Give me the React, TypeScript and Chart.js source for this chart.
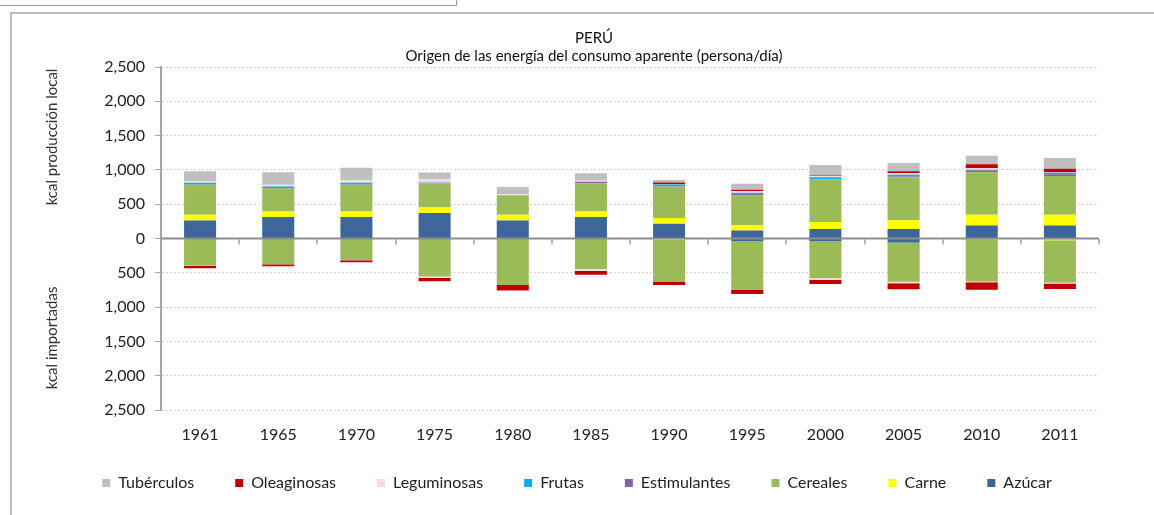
import React, { useEffect, useRef } from 'react';
import { Chart, registerables } from 'chart.js';

Chart.register(...registerables);

const years = ['1961', '1965', '1970', '1975', '1980', '1985', '1990', '1995', '2000', '2005', '2010', '2011'];

const seriesNames = ['Azúcar', 'Carne', 'Cereales', 'Estimulantes', 'Frutas', 'Leguminosas', 'Oleaginosas', 'Tubérculos'];
const seriesColors = ['#3D679A', '#FFFF00', '#9BBB59', '#8064A2', '#00B0F0', '#F2DCDB', '#C00000', '#BFBFBF'];

// kcal producción local (persona/día)
const azucarLocal = [264, 312, 312, 370, 264, 312, 216, 115, 140, 140, 188, 188];
const carneLocal = [82, 82, 82, 82, 82, 82, 82, 77, 101, 126, 159, 159];
const cerealesLocal = [436, 336, 389, 355, 274, 413, 455, 437, 618, 628, 618, 565];
const estimulantesLocal = [5, 5, 5, 5, 3, 15, 5, 29, 8, 8, 29, 25];
const frutasLocal = [25, 24, 25, 5, 3, 5, 29, 10, 25, 29, 10, 20];
const leguminosasLocal = [20, 24, 35, 45, 20, 15, 5, 20, 20, 19, 19, 10];
const oleaginosasLocal = [0, 0, 0, 0, 0, 0, 24, 24, 5, 29, 58, 48];
const tuberculosLocal = [149, 182, 185, 100, 106, 110, 38, 86, 155, 121, 126, 159];

// kcal importadas (persona/día), drawn below zero
const azucarImport = [0, 0, 0, 0, 0, 0, 0, -38, -35, -60, 0, 0];
const carneImport = [0, 0, 0, 0, 0, 0, -20, 0, 0, 0, -10, -25];
const cerealesImport = [-394, -370, -312, -555, -677, -446, -606, -713, -542, -571, -616, -616];
const estimulantesImport = [0, 0, 0, 0, 0, 0, 0, 0, 0, 0, 0, 0];
const frutasImport = [0, 0, 0, 0, 0, 0, 0, 0, 0, 0, 0, 0];
const leguminosasImport = [-5, -5, -5, -19, 0, -29, 0, 0, -24, -20, -10, -15];
const oleaginosasImport = [-34, -29, -29, -48, -82, -53, -53, -58, -63, -87, -111, -80];
const tuberculosImport = [0, 0, 0, 0, 0, 0, 0, 0, 0, 0, 0, 0];

const localSeries = [azucarLocal, carneLocal, cerealesLocal, estimulantesLocal, frutasLocal, leguminosasLocal, oleaginosasLocal, tuberculosLocal];
const importSeries = [azucarImport, carneImport, cerealesImport, estimulantesImport, frutasImport, leguminosasImport, oleaginosasImport, tuberculosImport];

const titleText = 'PERÚ';
const subtitleText = 'Origen de las energía del consumo aparente (persona/día)';
const yTitleTop = 'kcal producción local';
const yTitleBottom = 'kcal importadas';

const FONT = 'Lato, "Open Sans", sans-serif';

const decorPlugin = {
  id: 'decor',
  afterDatasetsDraw(chart: any) {
    const { ctx, chartArea, scales } = chart;
    const x = scales.x;
    const y = scales.y;
    const y0 = y.getPixelForValue(0);
    ctx.save();
    ctx.strokeStyle = '#8c8c8c';
    ctx.lineWidth = 2;
    ctx.beginPath();
    ctx.moveTo(chartArea.left, y0);
    ctx.lineTo(chartArea.right, y0);
    ctx.stroke();
    ctx.lineWidth = 1.5;
    ctx.strokeStyle = '#a0a0a0';
    const n = years.length;
    const step = (chartArea.right - chartArea.left) / n;
    ctx.beginPath();
    for (let i = 1; i <= n; i++) {
      const px = Math.round(chartArea.left + i * step);
      ctx.moveTo(px, y0);
      ctx.lineTo(px, y0 + 6);
    }
    ctx.stroke();

    // category labels under the plot
    ctx.fillStyle = '#222';
    ctx.font = `16px ${FONT}`;
    ctx.textAlign = 'center';
    ctx.textBaseline = 'middle';
    years.forEach((yr, i) => {
      ctx.fillText(yr, x.getPixelForValue(i), chartArea.bottom + 25);
    });
    ctx.restore();
  },
  afterDraw(chart: any) {
    const { ctx, scales } = chart;
    const y = scales.y;
    ctx.save();
    ctx.fillStyle = '#111';
    ctx.textAlign = 'center';
    ctx.textBaseline = 'middle';
    ctx.font = `15px ${FONT}`;
    ctx.fillText(titleText, 586, 30);
    ctx.fillText(subtitleText, 586, 48);

    ctx.fillStyle = '#333';
    ctx.font = `15px ${FONT}`;
    ctx.save();
    ctx.translate(44, y.getPixelForValue(1480));
    ctx.rotate(-Math.PI / 2);
    ctx.fillText(yTitleTop, 0, 0);
    ctx.restore();
    ctx.save();
    ctx.translate(44, y.getPixelForValue(-1450));
    ctx.rotate(-Math.PI / 2);
    ctx.fillText(yTitleBottom, 0, 0);
    ctx.restore();
    ctx.restore();
  },
};

export default function App() {
  const canvasRef = useRef<HTMLCanvasElement | null>(null);

  useEffect(() => {
    if (!canvasRef.current) return;
    const localSets = seriesNames.map((name, i) => ({
      label: name,
      data: localSeries[i],
      backgroundColor: seriesColors[i],
      borderWidth: 0,
      stack: 's',
    }));
    const importSets = seriesNames.map((name, i) => ({
      label: name + ' (importadas)',
      data: importSeries[i],
      backgroundColor: seriesColors[i],
      borderWidth: 0,
      stack: 's',
    }));

    const chart = new Chart(canvasRef.current, {
      type: 'bar',
      data: { labels: years, datasets: [...localSets, ...importSets] },
      plugins: [decorPlugin],
      options: {
        animation: false,
        responsive: false,
        maintainAspectRatio: false,
        layout: { padding: { top: 59, right: 0, bottom: 6, left: 0 } },
        datasets: { bar: { categoryPercentage: 1, barPercentage: 0.41 } },
        plugins: {
          title: { display: false },
          tooltip: { enabled: false },
          legend: {
            position: 'bottom',
            reverse: true,
            labels: {
              boxWidth: 8,
              boxHeight: 8,
              padding: 41,
              color: '#222',
              font: { family: FONT, size: 16 },
              filter: (item: any) => item.datasetIndex < seriesNames.length,
            },
          },
        },
        scales: {
          x: {
            stacked: true,
            grid: { display: false, drawTicks: false },
            border: { display: false },
            ticks: { display: false },
            afterFit: (scale: any) => { scale.height = 24; },
          },
          y: {
            stacked: true,
            min: -2500,
            max: 2500,
            grid: {
              color: (c: any) => (c.tick && c.tick.value === 0 ? 'rgba(0,0,0,0)' : '#d2d2d2'),
              tickColor: '#a6a6a6',
              tickLength: 6,
              lineWidth: 1,
            },
            border: { display: true, color: '#a6a6a6', width: 2, dash: [2, 2] },
            ticks: {
              stepSize: 500,
              padding: 10,
              color: '#222',
              font: { family: FONT, size: 16 },
              callback: (v: any) => Math.abs(Number(v)).toLocaleString('en-US'),
            },
            afterFit: (scale: any) => { scale.width = 153; },
          },
          yRightSpace: {
            position: 'right',
            display: true,
            min: -2500,
            max: 2500,
            grid: { display: false, drawTicks: false },
            border: { display: false },
            ticks: { display: false },
            afterFit: (scale: any) => { scale.width = 47; },
          },
        },
      },
    });
    return () => chart.destroy();
  }, []);

  return (
    <div style={{ position: 'fixed', left: 0, top: 0, width: 1154, height: 515, overflow: 'hidden', background: '#fff' }}>
      <div style={{ position: 'absolute', left: 0, top: 5, width: 457, height: 0, borderTop: '1px solid #9a9a9a' }} />
      <div style={{ position: 'absolute', left: 456, top: 0, width: 0, height: 6, borderLeft: '1px solid #9a9a9a' }} />
      <div style={{ position: 'absolute', left: 10, top: 12, width: 1160, height: 520, borderTop: '2px solid #bdbdbd', borderLeft: '2px solid #bdbdbd' }} />
      <canvas ref={canvasRef} width={1138} height={499} style={{ position: 'absolute', left: 8, top: 8, width: 1138, height: 499 }} />
    </div>
  );
}
